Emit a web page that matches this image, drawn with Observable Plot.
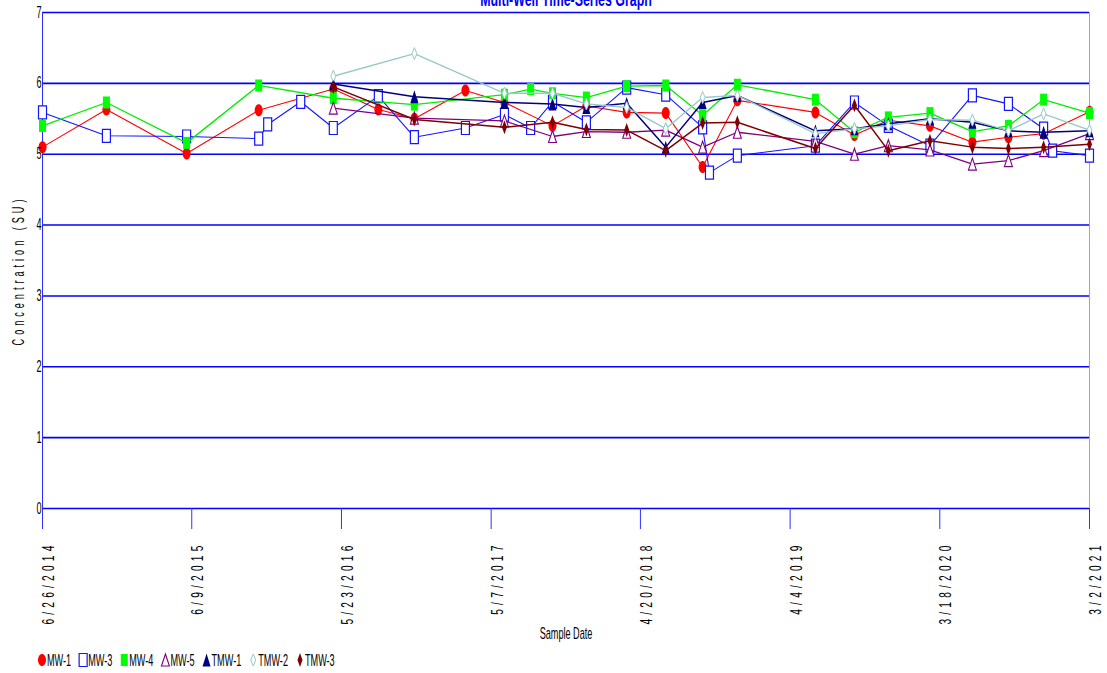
<!DOCTYPE html>
<html>
<head>
<meta charset="utf-8">
<script src="https://cdn.jsdelivr.net/npm/d3@7"></script>
<script src="https://cdn.jsdelivr.net/npm/@observablehq/plot@0.6"></script>
<style>
  html, body { margin: 0; padding: 0; background: #fff; }
  #chart svg { display: block; }
</style>
</head>
<body>
<div id="chart"></div>
<script>
// ---- chart text ----
const title = "Multi-Well Time-Series Graph";
const xLabel = "Sample Date";
const yLabel = "Concentration (SU)";

// ---- axes ----
const xDomain = ["2014-06-26", "2021-03-02"];
const xTickDates = ["2014-06-26", "2015-06-09", "2016-05-23", "2017-05-07",
                    "2018-04-20", "2019-04-04", "2020-03-18", "2021-03-02"];
const yTicks = [0, 1, 2, 3, 4, 5, 6, 7];

// ---- pH readings per well: [sample date, S.U.] ----
const mw1 = [
  ["2014-06-26", 5.10], ["2014-11-22", 5.63], ["2015-05-28", 5.01], ["2015-11-12", 5.62],
  ["2016-05-04", 5.92], ["2016-08-17", 5.63], ["2016-11-09", 5.50], ["2017-03-08", 5.90],
  ["2017-06-07", 5.73], ["2017-09-27", 5.40], ["2017-12-15", 5.68], ["2018-03-19", 5.59],
  ["2018-06-18", 5.58], ["2018-09-12", 4.82], ["2018-12-02", 5.76], ["2019-06-02", 5.59],
  ["2019-09-01", 5.27], ["2019-11-19", 5.48], ["2020-02-24", 5.40], ["2020-06-02", 5.17],
  ["2020-08-25", 5.24], ["2020-11-15", 5.29], ["2021-03-02", 5.60]
];
const mw3 = [
  ["2014-06-26", 5.59], ["2014-11-22", 5.26], ["2015-05-28", 5.25], ["2015-11-12", 5.22],
  ["2015-12-03", 5.42], ["2016-02-18", 5.74], ["2016-05-04", 5.37], ["2016-08-17", 5.82],
  ["2016-11-09", 5.24], ["2017-03-08", 5.37], ["2017-06-07", 5.56], ["2017-08-07", 5.37],
  ["2017-09-27", 5.74], ["2017-12-15", 5.45], ["2018-03-19", 5.94], ["2018-06-18", 5.84],
  ["2018-09-12", 5.38], ["2018-09-28", 4.74], ["2018-12-02", 4.98], ["2019-06-02", 5.12],
  ["2019-09-01", 5.73], ["2019-11-19", 5.40], ["2020-02-24", 5.12], ["2020-06-02", 5.83],
  ["2020-08-25", 5.71], ["2020-11-15", 5.36], ["2020-12-06", 5.05], ["2021-03-02", 4.98]
];
const mw4 = [
  ["2014-06-26", 5.40], ["2014-11-22", 5.73], ["2015-05-28", 5.16], ["2015-11-12", 5.97],
  ["2016-05-04", 5.79], ["2016-11-09", 5.70], ["2017-06-07", 5.84], ["2017-08-07", 5.92],
  ["2017-09-27", 5.86], ["2017-12-15", 5.80], ["2018-03-19", 5.96], ["2018-06-18", 5.97],
  ["2018-09-12", 5.55], ["2018-12-02", 5.98], ["2019-06-02", 5.77], ["2019-09-01", 5.31],
  ["2019-11-19", 5.52], ["2020-02-24", 5.58], ["2020-06-02", 5.32], ["2020-08-25", 5.40],
  ["2020-11-15", 5.77], ["2021-03-02", 5.58]
];
const mw5 = [
  ["2016-05-04", 5.65], ["2016-11-09", 5.51], ["2017-06-07", 5.47], ["2017-09-27", 5.25],
  ["2017-12-15", 5.32], ["2018-03-19", 5.31], ["2018-06-18", 5.34], ["2018-09-12", 5.10],
  ["2018-12-02", 5.31], ["2019-06-02", 5.18], ["2019-09-01", 5.00], ["2019-11-19", 5.12],
  ["2020-02-24", 5.06], ["2020-06-02", 4.86], ["2020-08-25", 4.91], ["2020-11-15", 5.05],
  ["2021-03-02", 5.29]
];
const tmw1 = [
  ["2016-05-04", 5.99], ["2016-11-09", 5.81], ["2017-06-07", 5.73], ["2017-09-27", 5.71],
  ["2017-12-15", 5.66], ["2018-03-19", 5.72], ["2018-06-18", 5.10], ["2018-09-12", 5.73],
  ["2018-12-02", 5.83], ["2019-06-02", 5.33], ["2019-09-01", 5.36], ["2019-11-19", 5.43],
  ["2020-02-24", 5.50], ["2020-06-02", 5.45], ["2020-08-25", 5.33], ["2020-11-15", 5.31],
  ["2021-03-02", 5.33]
];
const tmw2 = [
  ["2016-05-04", 6.10], ["2016-11-09", 6.42], ["2017-06-07", 5.86], ["2017-09-27", 5.86],
  ["2017-12-15", 5.71], ["2018-03-19", 5.66], ["2018-06-18", 5.36], ["2018-09-12", 5.80],
  ["2018-12-02", 5.83], ["2019-06-02", 5.29], ["2019-09-01", 5.36], ["2019-11-19", 5.40],
  ["2020-02-24", 5.49], ["2020-06-02", 5.48], ["2020-08-25", 5.33], ["2020-11-15", 5.57],
  ["2021-03-02", 5.34]
];
const tmw3 = [
  ["2016-05-04", 5.95], ["2016-11-09", 5.49], ["2017-06-07", 5.38], ["2017-09-27", 5.45],
  ["2017-12-15", 5.35], ["2018-03-19", 5.34], ["2018-06-18", 5.05], ["2018-09-12", 5.44],
  ["2018-12-02", 5.45], ["2019-06-02", 5.08], ["2019-09-01", 5.69], ["2019-11-19", 5.05],
  ["2020-02-24", 5.19], ["2020-06-02", 5.10], ["2020-08-25", 5.08], ["2020-11-15", 5.10],
  ["2021-03-02", 5.14]
];

// ---- marker shapes (tall, narrow) as custom symbol types ----
function ellipseSymbol(w, h) {
  return {draw(ctx) {
    const rx = w / 2, ry = h / 2, k = 0.5523;
    ctx.moveTo(0, -ry);
    ctx.bezierCurveTo(k * rx, -ry, rx, -k * ry, rx, 0);
    ctx.bezierCurveTo(rx, k * ry, k * rx, ry, 0, ry);
    ctx.bezierCurveTo(-k * rx, ry, -rx, k * ry, -rx, 0);
    ctx.bezierCurveTo(-rx, -k * ry, -k * rx, -ry, 0, -ry);
    ctx.closePath();
  }};
}
function rectSymbol(w, h) {
  return {draw(ctx) { ctx.rect(-w / 2, -h / 2, w, h); }};
}
function triangleSymbol(w, h) {
  return {draw(ctx) {
    ctx.moveTo(0, -h / 2); ctx.lineTo(w / 2, h / 2); ctx.lineTo(-w / 2, h / 2); ctx.closePath();
  }};
}
function diamondSymbol(w, h) {
  return {draw(ctx) {
    ctx.moveTo(0, -h / 2); ctx.lineTo(w / 2, 0); ctx.lineTo(0, h / 2); ctx.lineTo(-w / 2, 0); ctx.closePath();
  }};
}

const series = [
  {name: "MW-1",  data: mw1,  color: "#ff0000", lineWidth: 1.1, symbol: ellipseSymbol(8, 12),  fill: "#ff0000", stroke: "none",    sw: 0},
  {name: "MW-3",  data: mw3,  color: "#1515ff", lineWidth: 1.1, symbol: rectSymbol(8, 13),     fill: "white",   stroke: "#1515ff", sw: 1.2},
  {name: "MW-4",  data: mw4,  color: "#00ee00", lineWidth: 1.3, symbol: rectSymbol(7, 12),     fill: "#00ff00", stroke: "none",    sw: 0},
  {name: "MW-5",  data: mw5,  color: "#800080", lineWidth: 1.3, symbol: triangleSymbol(8, 12), fill: "white",   stroke: "#800080", sw: 1.1},
  {name: "TMW-1", data: tmw1, color: "#000080", lineWidth: 1.5, symbol: triangleSymbol(8, 13), fill: "#000080", stroke: "none",    sw: 0},
  {name: "TMW-2", data: tmw2, color: "#99c8c8", lineWidth: 1.4, symbol: diamondSymbol(5, 12),  fill: "white",   stroke: "#99c8c8", sw: 1},
  {name: "TMW-3", data: tmw3, color: "#800000", lineWidth: 1.5, symbol: diamondSymbol(5, 14),  fill: "#800000", stroke: "none",    sw: 0}
];

const FONT = '"Liberation Sans", Arial, Helvetica, sans-serif';
const SQUEEZE = 0.57;           // horizontal squeeze of the narrow chart lettering
const BLUE = "#0000ff";
const parse = s => new Date(s + "T00:00:00Z");
const fmtDate = s => { const d = parse(s); return `${d.getUTCMonth() + 1}/${d.getUTCDate()}/${d.getUTCFullYear()}`; };

const seriesMarks = series.flatMap(s => [
  Plot.line(s.data, {x: d => parse(d[0]), y: d => d[1], stroke: s.color, strokeWidth: s.lineWidth}),
  Plot.dot(s.data, {x: d => parse(d[0]), y: d => d[1], symbol: s.symbol, fill: s.fill, stroke: s.stroke, strokeWidth: s.sw})
]);

// label marks, in render order, with their lettering settings
const labelMarks = [
  {squeeze: SQUEEZE, spacing: 0, mark: Plot.text(yTicks, {y: d => d, text: d => String(d), frameAnchor: "left",
    textAnchor: "end", dx: -1, fontSize: 16, fill: "black"})},
  {squeeze: 0.6, spacing: 7, mark: Plot.text(xTickDates, {x: d => parse(d), text: fmtDate, frameAnchor: "bottom",
    rotate: -90, textAnchor: "end", lineAnchor: "middle", dx: 6, dy: 33, fontSize: 17, fill: "black"})},
  {squeeze: SQUEEZE, spacing: 0, mark: Plot.text([xLabel], {text: d => d, frameAnchor: "bottom", lineAnchor: "middle",
    dy: 125, fontSize: 16, fill: "black"})},
  {squeeze: SQUEEZE, spacing: 7, mark: Plot.text([yLabel], {text: d => d, frameAnchor: "left", rotate: -90,
    textAnchor: "middle", lineAnchor: "middle", dx: -24, dy: 10, fontSize: 16, fill: "black"})},
  {squeeze: 0.62, spacing: 0, mark: Plot.text([title], {text: d => d, frameAnchor: "top", lineAnchor: "bottom",
    dy: -7, fontSize: 20, fontWeight: "bold", fill: BLUE})}
];

const chart = Plot.plot({
  width: 1107,
  height: 645,
  marginLeft: 42,
  marginRight: 18,
  marginTop: 12,
  marginBottom: 137,
  style: {fontFamily: FONT, fontSize: "16px", background: "white", color: "black"},
  x: {type: "utc", domain: xDomain.map(parse)},
  y: {domain: [0, 7], axis: null},
  marks: [
    Plot.ruleY(yTicks, {stroke: BLUE, strokeWidth: 1.6}),
    Plot.ruleX([parse(xDomain[0])], {stroke: "#2a2aff", strokeWidth: 1}),
    Plot.ruleX([parse(xDomain[1])], {stroke: "#9a9aff", strokeWidth: 1}),
    Plot.axisX(xTickDates.map(parse), {tickSize: 21, stroke: "#3030ff", strokeWidth: 1, fill: "none"}),
    ...seriesMarks,
    ...labelMarks.map(l => l.mark)
  ]
});

// narrow lettering: squeeze each label along its writing direction, with optional tracking
const textGroups = chart.querySelectorAll('g[aria-label="text"]');
labelMarks.forEach((l, i) => {
  const g = textGroups[i];
  if (!g) return;
  g.querySelectorAll("text").forEach(t => {
    const tr = t.getAttribute("transform") || "";
    t.setAttribute("transform", `${tr} scale(${l.squeeze},1)`);
    if (l.spacing) t.setAttribute("letter-spacing", l.spacing);
  });
});
document.getElementById("chart").appendChild(chart);

// ---- legend row below the plot ----
const legend = d3.select("#chart").append("svg")
  .attr("width", 1107).attr("height", 28)
  .style("font-family", FONT).style("font-size", "16px");
let x = 38;
const cy = 15;
for (const s of series) {
  legend.append("path")
    .attr("d", d3.symbol().type(s.symbol)())
    .attr("transform", `translate(${x + 4},${cy})`)
    .attr("fill", s.fill).attr("stroke", s.stroke).attr("stroke-width", s.sw);
  const t = legend.append("text")
    .attr("transform", `translate(${x + 9},${cy}) scale(${SQUEEZE},1)`)
    .attr("dy", "0.35em").attr("fill", "black").text(s.name);
  const w = t.node().getComputedTextLength() * SQUEEZE;
  x = x + 9 + w + 8;
}
</script>
</body>
</html>
